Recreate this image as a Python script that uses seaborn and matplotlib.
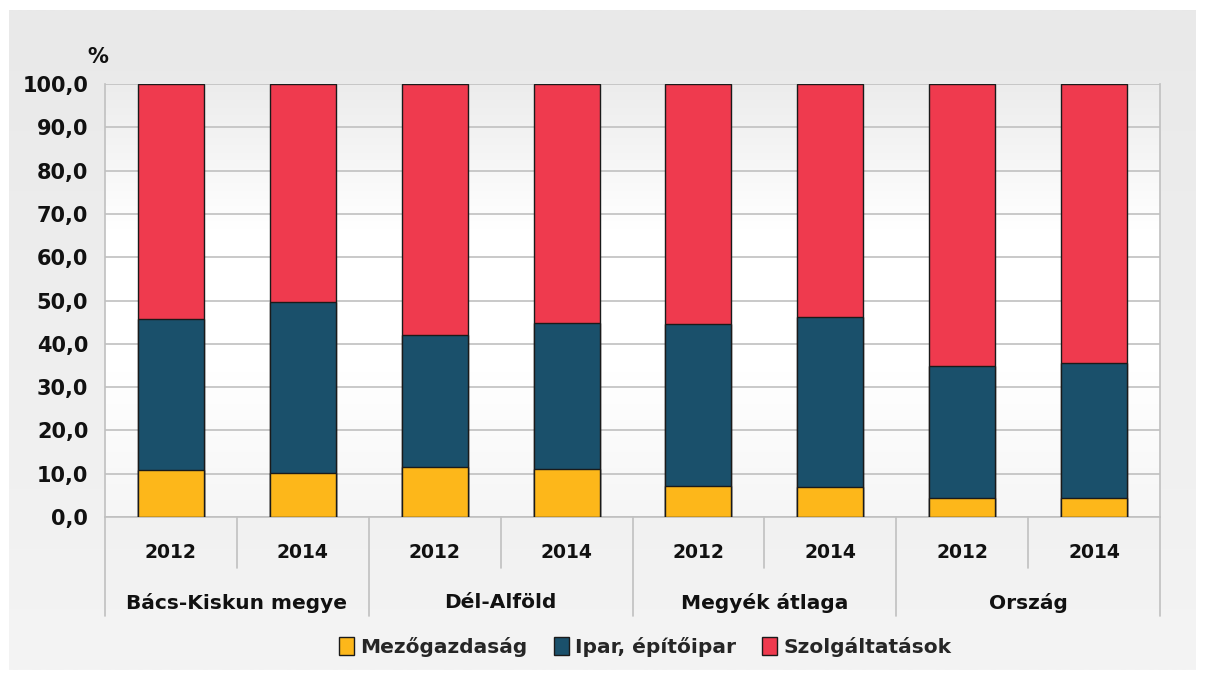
import numpy as np
import pandas as pd
import matplotlib
matplotlib.use("Agg")
import matplotlib.pyplot as plt
from matplotlib.colors import LinearSegmentedColormap
from matplotlib.patches import Patch
from matplotlib.ticker import FuncFormatter
import seaborn as sns

# data
groups = ["Bács-Kiskun megye", "Dél-Alföld", "Megyék átlaga", "Ország"]
years = ["2012", "2014"]
mezogazdasag = [10.8, 10.2, 11.5, 11.2, 7.2, 6.9, 4.5, 4.3]
ipar = [34.9, 39.5, 30.6, 33.5, 37.4, 39.4, 30.4, 31.3]
szolgaltatas = [54.3, 50.3, 57.9, 55.3, 55.4, 53.7, 65.1, 64.4]
series_names = ["Mezőgazdaság", "Ipar, építőipar", "Szolgáltatások"]
colors = ["#FDB71A", "#1A506B", "#EF3A4E"]

sns.set_theme(style="white")
plt.rcParams["font.family"] = ["DejaVu Sans"]
plt.rcParams["font.weight"] = "bold"

pos = [f"{g}|{y}" for g in groups for y in years]
df = pd.DataFrame({"pos": pos, "mezo": mezogazdasag, "ipar": ipar, "szolg": szolgaltatas})
df["c1"] = df["mezo"]
df["c2"] = df["mezo"] + df["ipar"]
df["c3"] = df["c2"] + df["szolg"]

W, H = 1205, 677
fig = plt.figure(figsize=(W / 100, H / 100), dpi=100)
fig.patch.set_facecolor("white")

# grey panel behind the chart
bg = fig.add_axes([0, 0, 1, 1], zorder=-10)
bg.axis("off")
bg.set_xlim(0, W)
bg.set_ylim(H, 0)
grad = np.linspace(0, 1, 256).reshape(-1, 1)
panel_cmap = LinearSegmentedColormap.from_list("panel", ["#e9e9e9", "#f4f4f4"])
bg.imshow(grad, extent=(9, 1196, 670, 10), cmap=panel_cmap, aspect="auto")

ax = fig.add_axes([105 / W, (H - 517) / H, (1160 - 105) / W, (517 - 84) / H])
ax.patch.set_alpha(0)

# stacked bars by overlapping cumulative totals
for col, c in zip(["c3", "c2", "c1"], colors[::-1]):
    sns.barplot(data=df, x="pos", y=col, order=pos, color=c, saturation=1,
                width=0.5, edgecolor="#1a1a1a", linewidth=1, ax=ax, zorder=3)

# plot area gradient
area_cmap = LinearSegmentedColormap.from_list("area", ["#ececec", "#ffffff", "#ffffff", "#f6f6f6"])
ax.imshow(grad, extent=(-0.5, 7.5, 0, 100), cmap=area_cmap, aspect="auto", zorder=0)

ax.set_xlim(-0.5, 7.5)
ax.set_ylim(0, 100)
ax.set_yticks(range(0, 101, 10))
ax.yaxis.set_major_formatter(FuncFormatter(lambda v, p: f"{v:.1f}".replace(".", ",")))
ax.yaxis.grid(True, color="#c0c0c0", linewidth=1.2, zorder=1)
ax.set_axisbelow(True)
ax.set_xlabel("")
ax.set_ylabel("")
ax.set_xticks([])
ax.tick_params(axis="y", length=7, width=1.2, color="#c0c0c0", labelsize=15,
               labelcolor="#111111", pad=5)
for lab in ax.get_yticklabels():
    lab.set_fontweight("bold")
for side in ["left", "bottom", "right"]:
    ax.spines[side].set_color("#c0c0c0")
    ax.spines[side].set_linewidth(1.2)
ax.spines["top"].set_visible(False)

# category axis below the plot
tr = ax.get_xaxis_transform()
for x in [0.5, 2.5, 4.5, 6.5]:
    ax.plot([x, x], [0, -51 / 433], transform=tr, color="#c0c0c0", lw=1.2, clip_on=False)
for x in [-0.5, 1.5, 3.5, 5.5, 7.5]:
    ax.plot([x, x], [0, -99 / 433], transform=tr, color="#c0c0c0", lw=1.2, clip_on=False)
for i, p in enumerate(pos):
    ax.text(i, -36 / 433, p.split("|")[1], transform=tr, ha="center", va="center",
            fontsize=13.5, fontweight="bold", color="#111111")
for j, g in enumerate(groups):
    ax.text(2 * j + 0.5, -86 / 433, g, transform=tr, ha="center", va="center",
            fontsize=14.5, fontweight="bold", color="#111111")

fig.text(98 / W, 1 - 57 / H, "%", ha="center", va="center", fontsize=15,
         fontweight="bold", color="#111111")

handles = [Patch(facecolor=c, edgecolor="#1a1a1a", linewidth=1) for c in colors]
fig.legend(handles, series_names, loc="center", bbox_to_anchor=(645 / W, 1 - 647 / H),
           ncol=3, frameon=False, handlelength=0.75, handleheight=1.0,
           handletextpad=0.3, columnspacing=1.3, prop={"weight": "bold", "size": 14.5})

fig.savefig("out.png", dpi=100)
